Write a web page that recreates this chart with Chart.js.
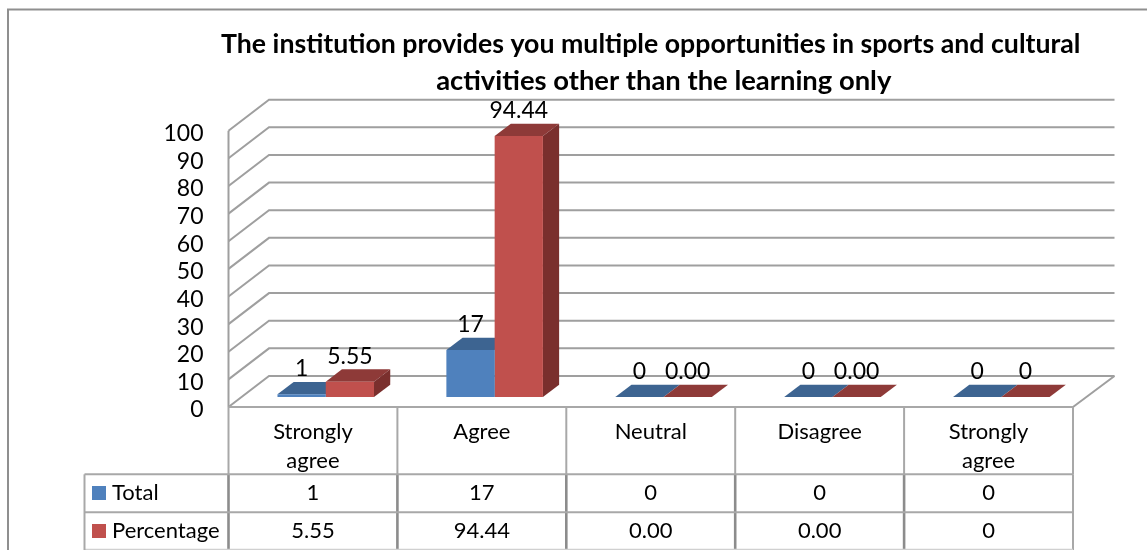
<!DOCTYPE html>
<html>
<head>
<meta charset="utf-8">
<style>html,body{margin:0;padding:0;background:#fff}#wrap{width:1147px;height:550px}canvas{display:block}</style>
<script src="https://cdn.jsdelivr.net/npm/chart.js@4"></script>
</head>
<body>
<div id="wrap"><canvas id="c" width="1147" height="550"></canvas></div>
<script>
const categories = [["Strongly","agree"],"Agree","Neutral","Disagree",["Strongly","agree"]];
const seriesNames = ["Total","Percentage"];
const totalValues = [1,17,0,0,0];
const percentValues = [5.55,94.44,0,0,0];
const totalText = ["1","17","0","0","0"];
const percentText = ["5.55","94.44","0.00","0.00","0"];
const titleLines = ["The institution provides you multiple opportunities in sports and cultural","activities other than the learning only"];

const FONT = "Lato, Carlito, sans-serif";
const DEPTH = {x:40.5, y:-31};      // floor depth of the 3D box
const BAR_OFF = {x:12.8, y:-10};    // bar front plane inside the box
const BAR_D = {x:16.2, y:-12.3};    // bar extrusion
const GRID = "#9f9f9f", FRAME="#8f8f8f", TBL="#a8a8a8", TBL_D="#8c8c8c";
const faces = [
  {top:"#3d6491", side:"#335578"},
  {top:"#8e3a38", side:"#7a2f2d"}
];
const labelText = [totalText, percentText];

function line(ctx, pts, color, w){
  ctx.beginPath(); ctx.strokeStyle=color; ctx.lineWidth=w; ctx.lineJoin="miter";
  pts.forEach((p,i)=> i?ctx.lineTo(p[0],p[1]):ctx.moveTo(p[0],p[1]));
  ctx.stroke();
}
function poly(ctx, pts, color){
  ctx.beginPath(); ctx.fillStyle=color;
  pts.forEach((p,i)=> i?ctx.lineTo(p[0],p[1]):ctx.moveTo(p[0],p[1]));
  ctx.closePath(); ctx.fill();
}

const box3d = {
  id:"box3d",
  beforeDraw(chart){
    // centre the title over the plot, with room for its full width
    const a=chart.chartArea, t=chart.titleBlock;
    if(t){ t.left=a.left-74; t.right=a.right+74; }
    const s=chart.boxes.find(b=>b.options && b.options.text===titleLines[1]);
    if(s){ s.left=a.left-61; s.right=a.right+87; }
  },
  beforeDatasetsDraw(chart){
    const {ctx, chartArea:a, scales:{y}} = chart;
    ctx.save();
    // outer frame
    line(ctx, [[8,550],[8,9.5],[1147,9.5]], FRAME, 2);
    // walls: one line per axis tick
    y.ticks.forEach(t=>{
      const py = y.getPixelForValue(t.value);
      line(ctx, [[a.left,py],[a.left+DEPTH.x,py+DEPTH.y],[a.right+DEPTH.x+1,py+DEPTH.y]], GRID, 2);
    });
    line(ctx, [[a.left,a.top],[a.left,a.bottom]], GRID, 2);
    line(ctx, [[a.right+DEPTH.x+1,a.bottom+DEPTH.y],[a.right,a.bottom]], GRID, 2);
    // data table
    const b=a.bottom, r1=474.3, r2=512.3, r3=549.5, cw=(a.right-a.left)/categories.length;
    line(ctx, [[a.left,b],[a.right,b]], TBL, 2);
    for(let i=0;i<=categories.length;i++){
      const x=a.left+cw*i;
      line(ctx, [[x,b],[x,r1]], TBL, 2);
      line(ctx, [[x,r1],[x,550]], i===categories.length?TBL:TBL_D, i===categories.length?2:2.6);
    }
    line(ctx, [[84.5,r1],[a.right,r1]], TBL, 2);
    line(ctx, [[84.5,r2],[a.right,r2]], TBL, 2);
    line(ctx, [[84.5,r3],[a.right,r3]], "#d0d0d0", 1.5);
    line(ctx, [[84.5,r1],[84.5,550]], TBL, 2);
    // legend keys and names
    const rows=[[totalText,493,0],[percentText,531,1]];
    ctx.textBaseline="middle"; ctx.fillStyle="#000"; ctx.font="22px "+FONT;
    rows.forEach(([txt,cy,k])=>{
      ctx.fillStyle=chart.data.datasets[k].backgroundColor;
      ctx.fillRect(92,cy-7,14,14);
      ctx.fillStyle="#000"; ctx.textAlign="left";
      ctx.fillText(seriesNames[k],112,cy);
      ctx.textAlign="center";
      txt.forEach((s,i)=>ctx.fillText(s,a.left+cw*(i+.5),cy));
    });
    // bar extrusions, back to front; the library paints the front faces on top
    ctx.translate(BAR_OFF.x,BAR_OFF.y);
    [0,1].forEach(k=>{
      const f=faces[k];
      chart.getDatasetMeta(k).data.forEach(el=>{
        const p=el.getProps(["x","y","base","width"],true);
        const l=p.x-p.width/2, r=p.x+p.width/2, d=BAR_D;
        poly(ctx,[[l,p.y],[r,p.y],[r+d.x,p.y+d.y],[l+d.x,p.y+d.y]],f.top);
        if(p.base-p.y>0) poly(ctx,[[r,p.y],[r+d.x,p.y+d.y],[r+d.x,p.base+d.y],[r,p.base]],f.side);
      });
    });
    ctx.restore();
  },
  beforeDatasetDraw(chart){
    chart.ctx.save();
    chart.ctx.translate(BAR_OFF.x,BAR_OFF.y);
  },
  afterDatasetDraw(chart){
    chart.ctx.restore();
  },
  afterDatasetsDraw(chart){
    const ctx=chart.ctx;
    ctx.save();
    ctx.font="23px "+FONT; ctx.fillStyle="#000"; ctx.textAlign="center"; ctx.textBaseline="alphabetic";
    chart.data.datasets.forEach((ds,k)=>{
      chart.getDatasetMeta(k).data.forEach((el,i)=>{
        ctx.fillText(labelText[k][i], el.x+BAR_OFF.x, el.y+BAR_OFF.y-18);
      });
    });
    ctx.restore();
  }
};

new Chart(document.getElementById("c"),{
  type:"bar",
  plugins:[box3d],
  data:{
    labels:categories,
    datasets:[
      {label:seriesNames[0],data:totalValues,backgroundColor:"#4f81bd",clip:false},
      {label:seriesNames[1],data:percentValues,backgroundColor:"#c0504d",clip:false}
    ]
  },
  options:{
    responsive:false,
    animation:false,
    layout:{padding:{left:0,right:74,top:0,bottom:0}},
    categoryPercentage:.5716,
    barPercentage:1,
    scales:{
      x:{
        grid:{display:false,drawTicks:false},border:{display:false},
        afterFit(s){s.height=143;},
        ticks:{color:"#000",font:{family:FONT,size:22,lineHeight:1.32},padding:10,maxRotation:0,autoSkip:false}
      },
      y:{
        min:0,max:100,
        grid:{display:false,drawTicks:false},border:{display:false},
        afterFit(s){s.width=228.5;},
        ticks:{stepSize:10,autoSkip:false,color:"#000",font:{family:FONT,size:23},padding:25,labelOffset:3}
      }
    },
    plugins:{
      legend:{display:false},
      tooltip:{enabled:false},
      title:{
        display:true,text:titleLines[0],color:"#000",
        font:{family:FONT,size:26.7,weight:"bold",lineHeight:1.38},
        padding:{top:26,bottom:0}
      },
      subtitle:{
        display:true,text:titleLines[1],color:"#000",
        font:{family:FONT,size:27.4,weight:"bold",lineHeight:1.35},
        padding:{top:0,bottom:30.86}
      }
    }
  }
});
</script>
</body>
</html>
